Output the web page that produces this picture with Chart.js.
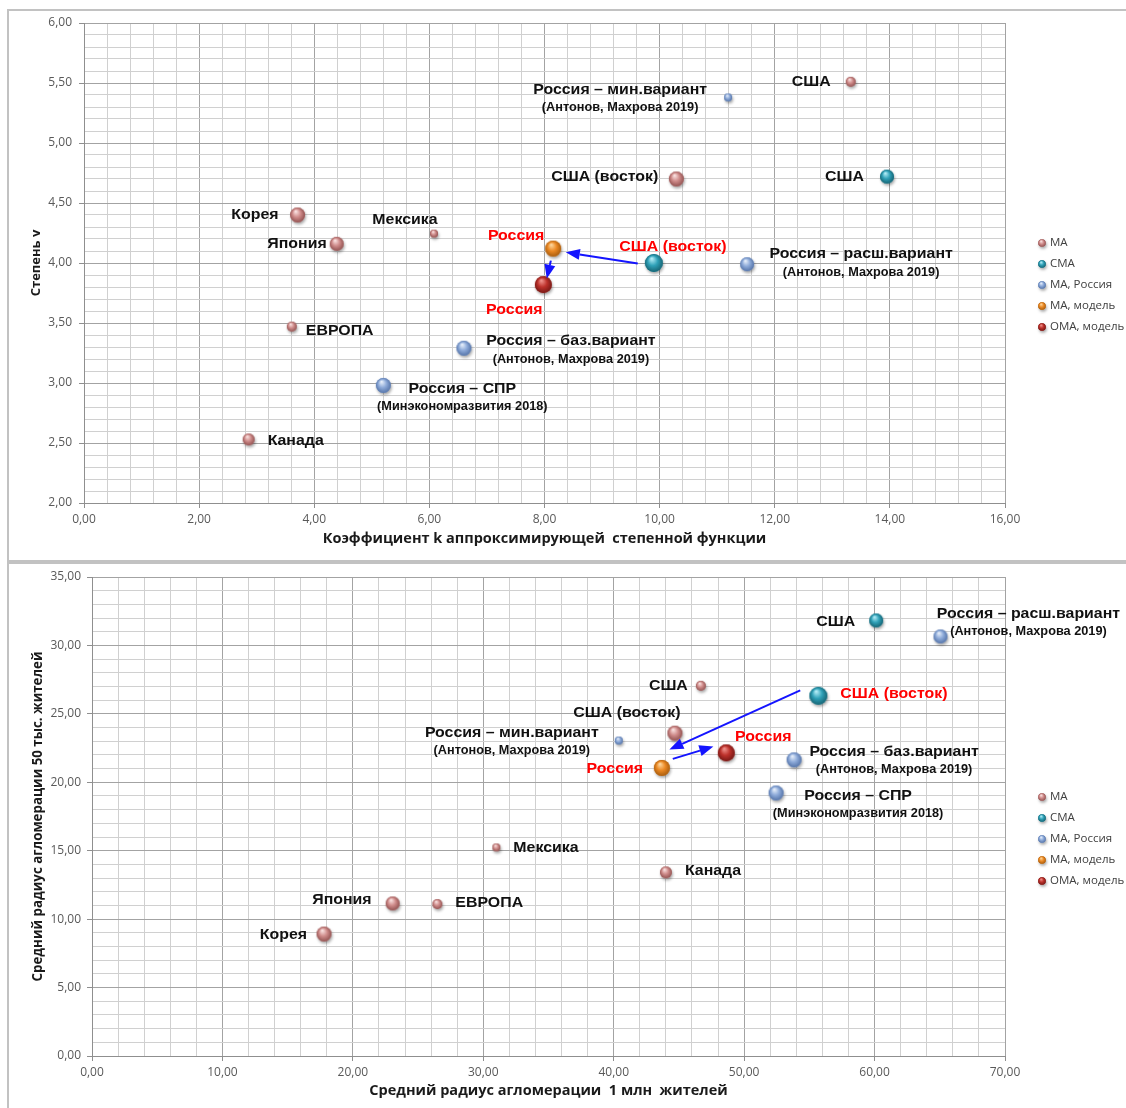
<!DOCTYPE html>
<html lang="ru">
<head>
<meta charset="utf-8">
<title>Агломерации: параметры степенной функции и средние радиусы</title>
<script src="https://cdn.jsdelivr.net/npm/chart.js@4/dist/chart.umd.min.js"></script>
<style>
  html, body { margin: 0; padding: 0; background: #fff; width: 1126px; height: 1108px; overflow: hidden; }
  .frame { position: absolute; border: 2px solid #c2c2c2; box-sizing: border-box; }
  canvas { position: absolute; left: 0; }
</style>
</head>
<body>
<div class="frame" style="left:7px;top:9px;width:1130px;height:553px"></div>
<div class="frame" style="left:7px;top:562px;width:1130px;height:560px"></div>
<canvas id="kv" width="1126" height="562" style="top:0"></canvas>
<canvas id="radius" width="1126" height="546" style="top:562px"></canvas>
<script>
// Series (legend order)
const seriesNames = ['МА', 'СМА', 'МА, Россия', 'МА, модель', 'ОМА, модель'];

// Point names per series (second line = source note)
const maNames = ['США', 'США (восток)', 'Корея', 'Япония', 'Мексика', 'ЕВРОПА', 'Канада'];
const smaNames = ['США', 'США (восток)'];
const ruNames = [
  'Россия – мин.вариант\n(Антонов, Махрова 2019)',
  'Россия – расш.вариант\n(Антонов, Махрова 2019)',
  'Россия – баз.вариант\n(Антонов, Махрова 2019)',
  'Россия – СПР\n(Минэкономразвития 2018)'
];
const modelNames = ['Россия'];
const omaNames = ['Россия'];

// Bubble sizes (same entities in both charts)
const maSize = [5, 7.5, 7.5, 7, 4, 5, 6];
const smaSize = [7, 9];
const ruSize = [4, 7, 7.5, 7.5];
const modelSize = [8];
const omaSize = [8.5];

// Chart 1: coefficient k vs exponent v
const kvMaK = [13.32, 10.29, 3.71, 4.39, 6.08, 3.61, 2.86];
const kvMaV = [5.51, 4.70, 4.40, 4.16, 4.245, 3.47, 2.53];
const kvSmaK = [13.95, 9.90];
const kvSmaV = [4.72, 4.00];
const kvRuK = [11.19, 11.52, 6.60, 5.20];
const kvRuV = [5.38, 3.99, 3.29, 2.98];
const kvModelK = [8.15];
const kvModelV = [4.12];
const kvOmaK = [7.98];
const kvOmaV = [3.82];
// arrows: США (восток) -> Россия (модель) -> Россия (ОМА)
const kvArrowFromK = [9.62, 8.11];
const kvArrowFromV = [3.995, 4.02];
const kvArrowToK = [8.37, 8.04];
const kvArrowToV = [4.09, 3.87];

// Chart 2: mean radius for 1 mln vs 50 thousand residents
const rdMaX = [46.68, 44.69, 17.79, 23.05, 31.0, 26.48, 44.0];
const rdMaY = [27.05, 23.59, 8.91, 11.15, 15.24, 11.1, 13.42];
const rdSmaX = [60.12, 55.69];
const rdSmaY = [31.83, 26.32];
const rdRuX = [40.39, 65.05, 53.83, 52.45];
const rdRuY = [23.05, 30.66, 21.64, 19.22];
const rdModelX = [43.69];
const rdModelY = [21.05];
const rdOmaX = [48.63];
const rdOmaY = [22.15];
const rdArrowFromX = [54.3, 44.53];
const rdArrowFromY = [26.71, 21.71];
const rdArrowToX = [44.27, 47.64];
const rdArrowToY = [22.39, 22.61];

// Label placement: [dx, dy, align, tone]
const kvPlacement = [
  [[-20, 0, 'right'], [-18, -2, 'right'], [-19, 0, 'right'], [-10, 0, 'right'], [-29, -14, 'center'], [14, 4, 'left'], [19, 1, 'left']],
  [[-23, 0, 'right'], [19, -16, 'center', 'red']],
  [[-108, -8, 'center'], [114, -10, 'center'], [107, -7, 'center'], [79, 3, 'center']],
  [[-37, -13, 'center', 'red']],
  [[-29, 25, 'center', 'red']]
];
const rdPlacement = [
  [[-13, 0, 'right'], [-48, -20, 'center'], [-17, 1, 'right'], [-21, -4, 'right'], [17, 0, 'left'], [18, -1, 'left'], [19, -1, 'left']],
  [[-21, 1, 'right'], [22, -2, 'left', 'red']],
  [[-107, -8, 'center'], [88, -23, 'center'], [100, -8, 'center'], [82, 3, 'center']],
  [[-47, 1, 'center', 'red']],
  [[37, -16, 'center', 'red']]
];

const palette = [
  { base: '#cf8b8a', light: '#fbe4e3', dark: '#8e4f4e' },
  { base: '#2fa1b8', light: '#b5eef8', dark: '#15606f' },
  { base: '#8daad9', light: '#e8f0fb', dark: '#5271a6' },
  { base: '#ec8a25', light: '#fdd8a0', dark: '#a55a0c' },
  { base: '#bd312b', light: '#f0938d', dark: '#731714' }
];

// 3D-looking sphere sprite, cached per colour/size
const sphereCache = {};
function sphere(ci, r) {
  const key = ci + ':' + r;
  if (sphereCache[key]) return sphereCache[key];
  const col = palette[ci];
  const pad = 5;
  const size = Math.ceil(2 * (r + pad));
  const c = document.createElement('canvas');
  c.width = c.height = size;
  const g = c.getContext('2d');
  const cx = size / 2, cy = size / 2;
  g.save();
  g.shadowColor = 'rgba(0,0,0,0.35)';
  g.shadowBlur = 3;
  g.shadowOffsetX = 1;
  g.shadowOffsetY = 2;
  g.beginPath(); g.arc(cx, cy, r, 0, Math.PI * 2);
  g.fillStyle = col.base; g.fill();
  g.restore();
  const grad = g.createRadialGradient(cx - r * 0.25, cy - r * 0.5, r * 0.05, cx, cy, r * 1.05);
  grad.addColorStop(0, col.light);
  grad.addColorStop(0.5, col.base);
  grad.addColorStop(1, col.dark);
  g.beginPath(); g.arc(cx, cy, r, 0, Math.PI * 2);
  g.fillStyle = grad; g.fill();
  sphereCache[key] = c;
  return c;
}

function makeDatasets(cols) {
  return cols.map((s, si) => ({
    label: seriesNames[si],
    colorIndex: si,
    data: s.xs.map((x, i) => ({ x: x, y: s.ys[i], r: s.rs[i], name: s.names[i] })),
    pointStyle: (ctx) => (ctx.raw ? sphere(si, ctx.raw.r) : 'circle'),
    backgroundColor: palette[si].base,
    borderWidth: 0,
    hoverRadius: 0
  }));
}

const fmt = (v) => v.toFixed(2).replace('.', ',');
const isMajor = (v, step) => Math.abs(v / step - Math.round(v / step)) < 1e-6;

const LABEL_FONT = '"Liberation Sans", Arial, sans-serif';
const AXIS_FONT = '"Open Sans", sans-serif';
const LABEL_STRETCH = 1.06;

function wideText(ctx, text, x, y) {
  ctx.save();
  ctx.translate(x, y);
  ctx.scale(LABEL_STRETCH, 1);
  ctx.fillText(text, 0, 0);
  ctx.restore();
}

const pointLabels = {
  id: 'pointLabels',
  afterDatasetsDraw(chart, args, opts) {
    const ctx = chart.ctx;
    chart.data.datasets.forEach((ds, di) => {
      const meta = chart.getDatasetMeta(di);
      ds.data.forEach((pt, i) => {
        const el = meta.data[i];
        const p = opts.placement[di][i];
        const lines = pt.name.split('\n');
        ctx.save();
        ctx.fillStyle = p[3] === 'red' ? '#ff0000' : '#111111';
        ctx.textAlign = p[2];
        ctx.textBaseline = 'middle';
        ctx.font = 'bold 15px ' + LABEL_FONT;
        wideText(ctx, lines[0], el.x + p[0], el.y + p[1]);
        if (lines[1]) {
          ctx.font = 'bold 12px ' + LABEL_FONT;
          wideText(ctx, lines[1], el.x + p[0], el.y + p[1] + 18);
        }
        ctx.restore();
      });
    });
  }
};

const arrows = {
  id: 'arrows',
  afterDatasetsDraw(chart, args, opts) {
    const ctx = chart.ctx;
    const sx = chart.scales.x, sy = chart.scales.y;
    for (let i = 0; i < opts.fromX.length; i++) {
      const x1 = sx.getPixelForValue(opts.fromX[i]);
      const y1 = sy.getPixelForValue(opts.fromY[i]);
      const x2 = sx.getPixelForValue(opts.toX[i]);
      const y2 = sy.getPixelForValue(opts.toY[i]);
      const a = Math.atan2(y2 - y1, x2 - x1);
      const head = 14, half = 5.5;
      const bx = x2 - head * Math.cos(a), by = y2 - head * Math.sin(a);
      ctx.save();
      ctx.strokeStyle = '#1414ff';
      ctx.fillStyle = '#1414ff';
      ctx.lineWidth = 2;
      ctx.beginPath(); ctx.moveTo(x1, y1); ctx.lineTo(bx, by); ctx.stroke();
      ctx.beginPath();
      ctx.moveTo(x2, y2);
      ctx.lineTo(bx + half * Math.sin(a), by - half * Math.cos(a));
      ctx.lineTo(bx - half * Math.sin(a), by + half * Math.cos(a));
      ctx.closePath(); ctx.fill();
      ctx.restore();
    }
  }
};

const sphereLegend = {
  id: 'sphereLegend',
  afterDraw(chart, args, opts) {
    const ctx = chart.ctx;
    chart.data.datasets.forEach((ds, i) => {
      const y = opts.top + i * opts.gap;
      const s = sphere(ds.colorIndex, 3.8);
      ctx.drawImage(s, opts.x - s.width / 2, y - s.height / 2);
      ctx.save();
      ctx.font = '11.5px ' + AXIS_FONT;
      ctx.fillStyle = '#404040';
      ctx.textAlign = 'left';
      ctx.textBaseline = 'middle';
      ctx.fillText(ds.label, opts.x + 8, y);
      ctx.restore();
    });
  }
};

function axis(cfg) {
  return {
    type: 'linear',
    min: cfg.min,
    max: cfg.max,
    afterFit: cfg.fit,
    border: { color: '#8f8f8f', width: 1 },
    grid: {
      color: (c) => (c.tick && isMajor(c.tick.value, cfg.major) ? '#a3a3a3' : '#d0d0d0'),
      lineWidth: 1,
      drawTicks: true,
      tickLength: 5,
      tickColor: (c) => (c.tick && isMajor(c.tick.value, cfg.major) ? '#8f8f8f' : 'rgba(0,0,0,0)')
    },
    ticks: {
      stepSize: cfg.step,
      autoSkip: false,
      maxRotation: 0,
      minRotation: 0,
      padding: cfg.tickPad,
      color: '#595959',
      font: { family: AXIS_FONT, size: 12 },
      callback: (v) => (isMajor(v, cfg.major) ? fmt(v) : '')
    },
    title: {
      display: true,
      text: cfg.title,
      color: '#1a1a1a',
      font: { family: AXIS_FONT, size: cfg.titleSize, weight: 'bold' },
      padding: cfg.titlePad
    }
  };
}

function build(canvasId, sets, placement, arrowCfg, legendCfg, scales, padTop) {
  return new Chart(document.getElementById(canvasId), {
    type: 'bubble',
    data: { datasets: makeDatasets(sets) },
    options: {
      responsive: false,
      animation: false,
      events: [],
      layout: { padding: { left: 0, top: padTop, right: 121, bottom: 0 } },
      plugins: {
        legend: { display: false },
        tooltip: { enabled: false },
        pointLabels: { placement: placement },
        arrows: arrowCfg,
        sphereLegend: legendCfg
      },
      scales: scales
    },
    plugins: [arrows, pointLabels, sphereLegend]
  });
}

build('kv', [
  { xs: kvMaK, ys: kvMaV, rs: maSize, names: maNames },
  { xs: kvSmaK, ys: kvSmaV, rs: smaSize, names: smaNames },
  { xs: kvRuK, ys: kvRuV, rs: ruSize, names: ruNames },
  { xs: kvModelK, ys: kvModelV, rs: modelSize, names: modelNames },
  { xs: kvOmaK, ys: kvOmaV, rs: omaSize, names: omaNames }
], kvPlacement,
{ fromX: kvArrowFromK, fromY: kvArrowFromV, toX: kvArrowToK, toY: kvArrowToV },
{ x: 1042, top: 243, gap: 21 },
{
  x: axis({ min: 0, max: 16, step: 0.4, major: 2, tickPad: 4, title: 'Коэффициент k аппроксимирующей  степенной функции', titleSize: 14.5, titlePad: { top: 0, bottom: 14.5 }, fit: (s) => { s.height = 59; } }),
  y: axis({ min: 2, max: 6, step: 0.1, major: 0.5, tickPad: 7, title: 'Степень v', titleSize: 13, titlePad: { top: 28, bottom: 0 }, fit: (s) => { s.width = 84; } })
}, 23);

build('radius', [
  { xs: rdMaX, ys: rdMaY, rs: maSize, names: maNames },
  { xs: rdSmaX, ys: rdSmaY, rs: smaSize, names: smaNames },
  { xs: rdRuX, ys: rdRuY, rs: ruSize, names: ruNames },
  { xs: rdModelX, ys: rdModelY, rs: modelSize, names: modelNames },
  { xs: rdOmaX, ys: rdOmaY, rs: omaSize, names: omaNames }
], rdPlacement,
{ fromX: rdArrowFromX, fromY: rdArrowFromY, toX: rdArrowToX, toY: rdArrowToY },
{ x: 1042, top: 235, gap: 21 },
{
  x: axis({ min: 0, max: 70, step: 2, major: 10, tickPad: 4, title: 'Средний радиус агломерации  1 млн  жителей', titleSize: 14.5, titlePad: { top: 0, bottom: 8.5 }, fit: (s) => { s.height = 52; } }),
  y: axis({ min: 0, max: 35, step: 1, major: 5, tickPad: 6, title: 'Средний радиус агломерации 50 тыс. жителей', titleSize: 13.3, titlePad: { top: 30, bottom: 0 }, fit: (s) => { s.width = 92; } })
}, 15);
</script>
</body>
</html>
